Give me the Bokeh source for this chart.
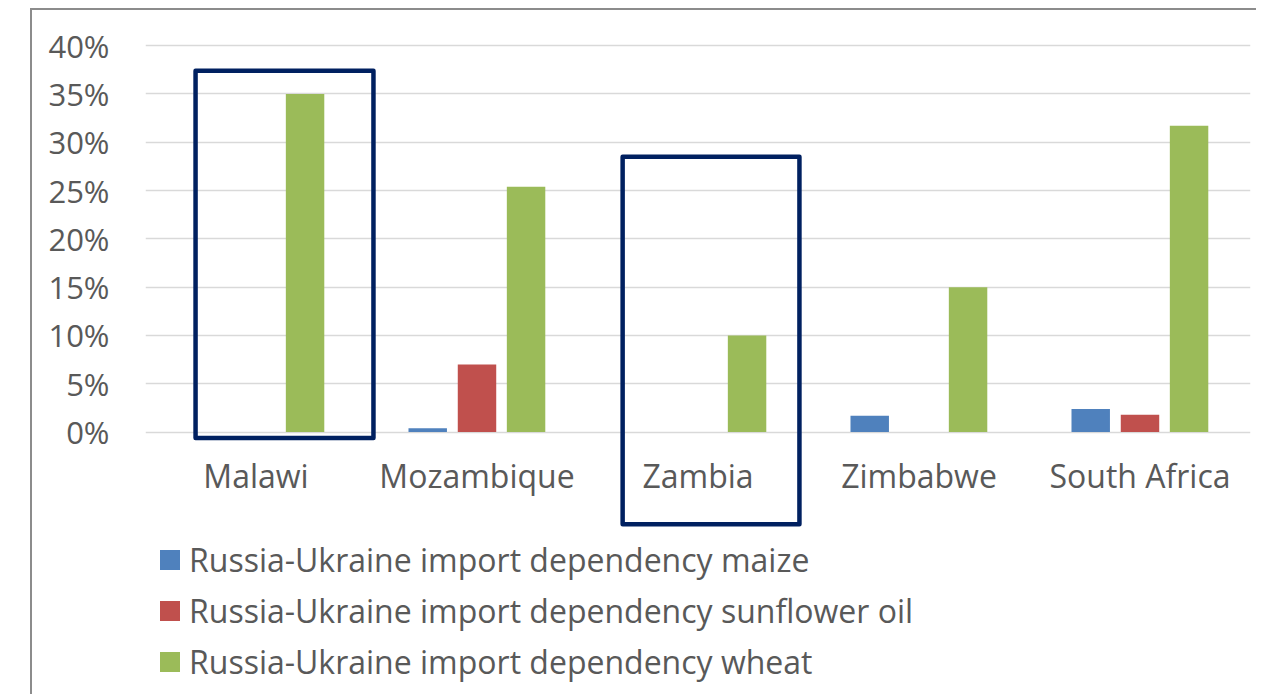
from bokeh.plotting import figure
from bokeh.models import FactorRange, Range1d, FixedTicker, Legend, LegendItem, ColumnDataSource
from bokeh.transform import dodge
from bokeh.core.properties import value
from bokeh.embed import file_html
from bokeh.resources import INLINE

countries = ["Malawi", "Mozambique", "Zambia", "Zimbabwe", "South Africa"]
maize = [0.0, 0.4, 0.0, 1.7, 2.4]
sunflower = [0.0, 7.0, 0.0, 0.0, 1.8]
wheat = [35.0, 25.4, 10.0, 15.0, 31.7]
series_labels = [
    "Russia-Ukraine import dependency maize",
    "Russia-Ukraine import dependency sunflower oil",
    "Russia-Ukraine import dependency wheat",
]
y_ticks = [0, 5, 10, 15, 20, 25, 30, 35, 40]
highlighted = ["Malawi", "Zambia"]

FONT = "Open Sans"
TXT = "#595959"
colors = ["#4f81bd", "#c0504d", "#9bbb59"]

src = ColumnDataSource(dict(country=countries, maize=maize, sunflower=sunflower, wheat=wheat))

p = figure(
    x_range=FactorRange(*countries, range_padding=0),
    y_range=Range1d(-27.36, 43.63),
    width=1226, height=686,
    output_backend="svg", toolbar_location=None,
    x_axis_location=None,
    min_border_left=113, min_border_right=8, min_border_top=0, min_border_bottom=0,
)
p.styles = {"margin-left": "30px", "margin-top": "8px",
            "border-left": "2px solid #8c8c8c", "border-top": "2px solid #8c8c8c"}
p.outline_line_color = None
p.xgrid.visible = False
p.ygrid.ticker = FixedTicker(ticks=y_ticks)
p.ygrid.grid_line_color = "#d9d9d9"
p.ygrid.grid_line_width = 1.5

ax = p.yaxis[0]
ax.ticker = FixedTicker(ticks=y_ticks)
ax.major_label_overrides = {t: f"{t}%" for t in y_ticks}
ax.axis_line_color = None
ax.major_tick_line_color = None
ax.minor_tick_line_color = None
ax.major_label_standoff = 30
ax.major_label_text_font = FONT
ax.major_label_text_font_size = "31px"
ax.major_label_text_color = TXT

offsets = [-0.223, 0.0, 0.222]
renderers = []
for field, off, col in zip(["maize", "sunflower", "wheat"], offsets, colors):
    r = p.vbar(x=dodge("country", off, range=p.x_range), top=field, width=0.174,
               source=src, fill_color=col, line_color=None)
    renderers.append(r)

# category labels
p.text(x=countries, y=[-4.5] * len(countries), text=countries,
       text_align="center", text_baseline="middle",
       text_font=value(FONT), text_font_size="32px", text_color=TXT)

# highlight boxes
box_specs = {"Malawi": (0.129, 0.805, 37.4, -0.62), "Zambia": (0.059, 0.80, 28.5, -9.53)}
for c in highlighted:
    off, w, top, bot = box_specs[c]
    p.rect(x=dodge("x", off, range=p.x_range),
           y=(top + bot) / 2, width=w, height=top - bot,
           source=ColumnDataSource(dict(x=[c])),
           fill_color=None, line_color="#002060", line_width=4.5, line_join="round")

legend = Legend(
    items=[LegendItem(label=lab, renderers=[r]) for lab, r in zip(series_labels, renderers)],
    location=(12, 13), orientation="vertical",
    glyph_width=25, glyph_height=25, label_standoff=7, spacing=8, label_height=30,
    padding=0, margin=0, border_line_color=None, background_fill_alpha=0,
    label_text_font=FONT, label_text_font_size="32px", label_text_color=TXT,
)
p.add_layout(legend)

open("out.html", "w").write(file_html(p, INLINE))
